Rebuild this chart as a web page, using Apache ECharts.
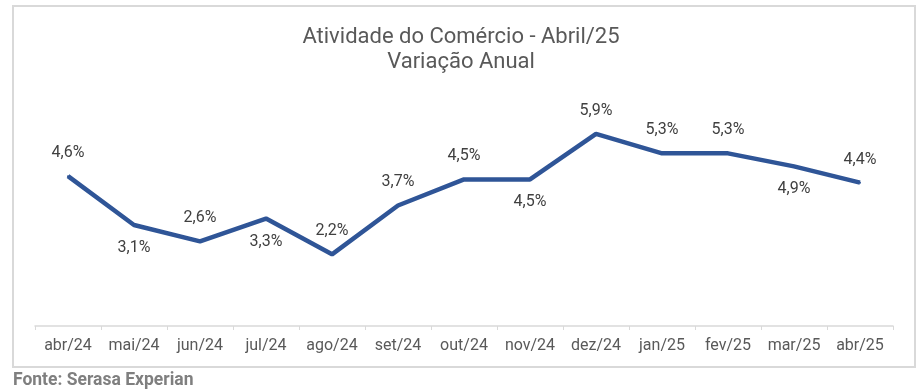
<!DOCTYPE html>
<html><head><meta charset="utf-8">
<script src="https://cdn.jsdelivr.net/npm/echarts@6/dist/echarts.min.js"></script>
<style>html,body{margin:0;padding:0;background:#fff}#c{width:922px;height:391px}</style>
</head><body><div id="c"></div>
<script>
const categories = ['abr/24','mai/24','jun/24','jul/24','ago/24','set/24','out/24','nov/24','dez/24','jan/25','fev/25','mar/25','abr/25'];
const values = [4.6, 3.1, 2.6, 3.3, 2.2, 3.7, 4.5, 4.5, 5.9, 5.3, 5.3, 4.9, 4.4];
const labelPos = ['top','bottom','top','bottom','top','top','top','bottom','top','top','top','bottom','top'];
const titleText = 'Atividade do Comércio - Abril/25\nVariação Anual';
const sourceText = 'Fonte: Serasa Experian';

const chart = echarts.init(document.getElementById('c'));
chart.setOption({
  animation: false,
  textStyle: {fontFamily: 'Roboto'},
  title: {
    text: titleText, left: 'center', top: 20,
    textStyle: {fontFamily: 'Roboto', fontSize: 22, fontWeight: 'normal', color: '#595959', lineHeight: 25}
  },
  graphic: [
    {type: 'rect', shape: {x: 13, y: 6, width: 902, height: 361}, style: {fill: 'none', stroke: '#d9d9d9', lineWidth: 2}, z: -1},
    {type: 'text', left: 13, top: 372, style: {text: sourceText, fontFamily: 'Roboto', fontSize: 17.5, fontWeight: 'bold', fill: '#7f7f7f'}}
  ],
  grid: {left: 35, right: 29, top: 98, bottom: 65, containLabel: false},
  xAxis: {
    type: 'category', data: categories, boundaryGap: true,
    axisLine: {lineStyle: {color: '#d9d9d9', width: 1.5}},
    axisTick: {show: true, length: 4, interval: 0, lineStyle: {color: '#d9d9d9'}},
    axisLabel: {color: '#595959', fontSize: 16, margin: 12, interval: 0, fontFamily: 'Roboto'}
  },
  yAxis: {type: 'value', min: 0, max: 7, show: false, splitLine: {show: false}},
  series: [{
    type: 'line',
    data: values.map((v, i) => ({value: v, label: {show: true, position: labelPos[i]}})),
    symbol: 'circle', symbolSize: 2, showSymbol: true,
    itemStyle: {color: '#2F5597'},
    lineStyle: {color: '#2F5597', width: 4.5},
    label: {show: true, distance: 14, fontSize: 16, color: '#404040', fontFamily: 'Roboto',
      formatter: function (p) { return p.value.toFixed(1).replace('.', ',') + '%'; }}
  }]
});
</script></body></html>
